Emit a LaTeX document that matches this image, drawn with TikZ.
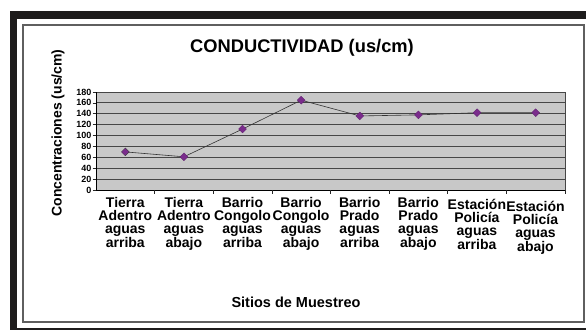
\documentclass[tikz,border=0pt]{standalone}
\usepackage{fontspec}
\setmainfont{Liberation Sans}
\usetikzlibrary{shapes.geometric}
\definecolor{mpurple}{RGB}{122,44,140}
\definecolor{plotgray}{RGB}{200,200,200}
\definecolor{gridc}{RGB}{70,70,70}
\definecolor{framegray}{RGB}{95,95,95}
\definecolor{darkband}{RGB}{30,28,28}
\begin{document}
\begin{tikzpicture}[x=1pt,y=-1pt,
  marker/.style={diamond, fill=mpurple, draw=mpurple!80!black, line width=0.3pt, inner sep=0pt, minimum width=8pt, minimum height=8pt},
  catlabel/.style={anchor=north, inner sep=0pt, align=center, font=\fontsize{14}{13}\selectfont\bfseries},
  ticklabel/.style={anchor=east, inner sep=0pt, font=\fontsize{9}{9}\selectfont\bfseries},
  gridline/.style={draw=gridc, line width=0.8pt},
  dataline/.style={draw=black!80, line width=0.6pt},
  tickmark/.style={draw=black!85, line width=0.6pt}]
\useasboundingbox (0,0) rectangle (586,330);
% outer frame
\fill[darkband] (10,11) rectangle (586,330);
\fill[white] (17,19) rectangle (586,327.5);
\draw[framegray, line width=1.3pt] (23,25) rectangle (584,322);
% title and axis titles
\node[font=\fontsize{18.3}{20}\selectfont\bfseries] (title) at (302,48) {CONDUCTIVIDAD (us/cm)};
\node[font=\fontsize{14}{16}\selectfont\bfseries, rotate=90] (ylab) at (58,133) {Concentraciones (us/cm)};
\node[font=\fontsize{14.5}{16}\selectfont\bfseries] (xlab) at (296,302) {Sitios de Muestreo};
% plot area
\fill[plotgray] (96,92.3) rectangle (565,190);
\foreach \v in {20,40,...,160} {
  \draw[gridline] (96,{190-\v*0.5444}) -- (565,{190-\v*0.5444});
}
\draw[gridline] (96,92.3) -- (565,92.3) -- (565,190);
\draw[black, line width=0.9pt] (96,92.3) -- (96,190) -- (565,190);
% y ticks and labels
\foreach \v [count=\i] in {0,20,...,180} {
  \draw[tickmark] (92.5,{190-\v*0.5444}) -- (96,{190-\v*0.5444});
  \node[ticklabel] (yt\i) at (91.5,{190-\v*0.5444}) {\v};
}
% x ticks
\foreach \k in {1,...,8} {
  \draw[tickmark] ({96+58.625*\k},190) -- ({96+58.625*\k},194);
}
% category labels
\node[catlabel] (l1) at (125.3,197) {Tierra\\Adentro\\aguas\\arriba};
\node[catlabel] (l2) at (183.9,197) {Tierra\\Adentro\\aguas\\abajo};
\node[catlabel] (l3) at (242.5,197) {Barrio\\Congolo\\aguas\\arriba};
\node[catlabel] (l4) at (301.1,197.5) {Barrio\\Congolo\\aguas\\abajo};
\node[catlabel] (l5) at (359.7,197) {Barrio\\Prado\\aguas\\arriba};
\node[catlabel] (l6) at (418.3,197) {Barrio\\Prado\\aguas\\abajo};
\node[catlabel] (l7) at (476.9,199) {Estación\\Policía\\aguas\\arriba};
\node[catlabel] (l8) at (535.5,201) {Estación\\Policía\\aguas\\abajo};
% data
\foreach \v [count=\i] in {70,61,112,165,136,138,142,142} {
  \coordinate (c\i) at ({96+58.625*(\i-0.5)},{190-\v*0.5444});
}
\draw[dataline] (c1) -- (c2) -- (c3) -- (c4) -- (c5) -- (c6) -- (c7) -- (c8);
\node[marker, draw=black!80] (m1) at (c1) {};
\foreach \i in {2,...,8} {
  \node[marker] (m\i) at (c\i) {};
}
\end{tikzpicture}
\end{document}
